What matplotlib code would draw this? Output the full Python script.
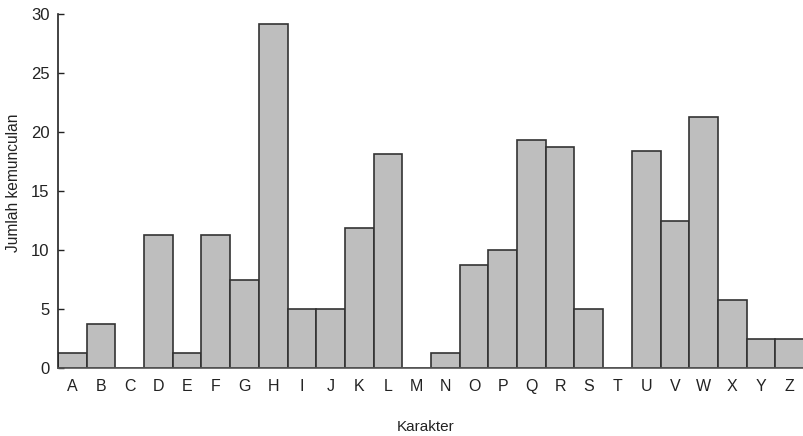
import matplotlib
matplotlib.use("Agg")
import matplotlib.pyplot as plt

characters = list("ABCDEFGHIJKLMNOPQRSTUVWXYZ")
counts = [1.25, 3.75, 0, 11.25, 1.25, 11.25, 7.5, 29.15, 5.0, 5.0,
          11.85, 18.15, 0, 1.25, 8.75, 10.0, 19.35, 18.75, 5.0, 0,
          18.35, 12.45, 21.3, 5.8, 2.45, 2.45]
y_ticks = [0, 5, 10, 15, 20, 25, 30]

plt.rcParams['font.family'] = ['Liberation Sans', 'DejaVu Sans']

W, H = 804, 436
fig = plt.figure(figsize=(W / 100, H / 100), dpi=100)
ax = fig.add_axes([58 / W, 68 / H, 746 / W, 354 / H])

x = range(len(characters))
ax.bar(x, counts, width=1.0, color='#bebebe', edgecolor='#333333', linewidth=1.2)

ax.set_xlim(-0.5, len(characters) - 0.5)
ax.set_ylim(0, 30)
ax.set_yticks(y_ticks)
ax.set_xticks(list(x))
ax.set_xticklabels(characters)

ax.spines['top'].set_visible(False)
ax.spines['right'].set_visible(False)
ax.spines['left'].set_color('#222222')
ax.spines['left'].set_linewidth(1.2)
ax.spines['bottom'].set_color('#555555')
ax.spines['bottom'].set_linewidth(1.2)

ax.tick_params(axis='y', direction='in', length=4, width=1, color='#222222',
               labelsize=12, pad=6, labelcolor='#222222')
ax.tick_params(axis='x', length=0, labelsize=11.5, pad=8, labelcolor='#222222')

fig.text(426 / W, 1 - 427 / H, 'Karakter', fontsize=11, color='#222222',
         ha='center', va='center')
fig.text(14 / W, 1 - 183 / H, 'Jumlah kemunculan', fontsize=11.2, color='#222222',
         ha='center', va='center', rotation=90)

fig.savefig('out.png', dpi=100)
